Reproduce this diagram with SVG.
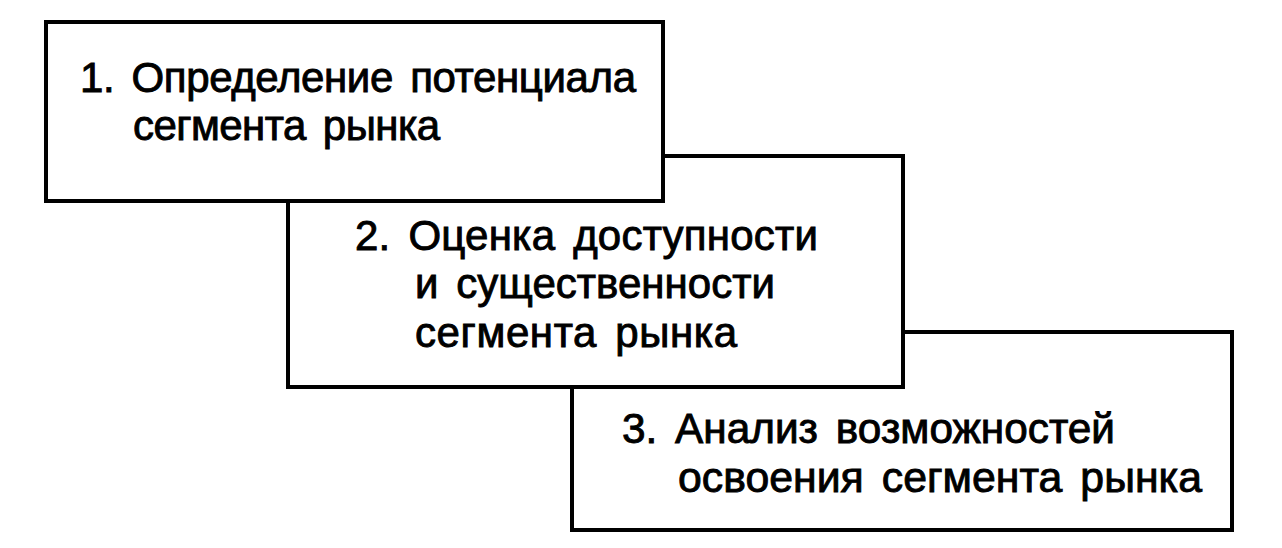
<svg xmlns="http://www.w3.org/2000/svg" width="1282" height="548" viewBox="0 0 1282 548">
<style>
.box{fill:#fff;stroke:#000;stroke-width:4}
.t{font-family:"Liberation Sans",Arial,sans-serif;font-size:42px;fill:#000;stroke:#000;stroke-width:0.9;word-spacing:6px}
</style>
<rect width="1282" height="548" fill="#fff"/>
<g id="connectors"></g>
<g id="node3">
<rect class="box" x="572" y="332" width="660" height="198"/>
<text class="t" x="622" y="443" textLength="493" lengthAdjust="spacingAndGlyphs">3. Анализ возможностей</text>
<text class="t" x="678" y="492" textLength="524" lengthAdjust="spacingAndGlyphs">освоения сегмента рынка</text>
</g>
<g id="node2">
<rect class="box" x="288" y="156" width="615" height="231"/>
<text class="t" x="355" y="250" textLength="463" lengthAdjust="spacing">2. Оценка доступности</text>
<text class="t" x="415" y="298" textLength="360" lengthAdjust="spacing">и существенности</text>
<text class="t" x="415" y="347" textLength="322" lengthAdjust="spacing">сегмента рынка</text>
</g>
<g id="node1">
<rect class="box" x="46" y="22" width="617" height="179"/>
<text class="t" x="80" y="92" textLength="556" lengthAdjust="spacing">1. Определение потенциала</text>
<text class="t" x="133" y="140" textLength="307" lengthAdjust="spacing">сегмента рынка</text>
</g>
</svg>
